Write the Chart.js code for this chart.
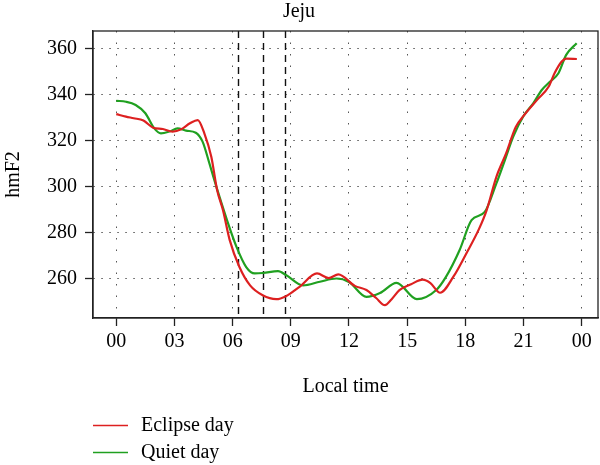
<!DOCTYPE html>
<html>
<head>
<meta charset="utf-8">
<script src="https://cdn.jsdelivr.net/npm/chart.js@4"></script>
<style>
  html, body { margin: 0; padding: 0; background: #fff; }
  #wrap { width: 600px; height: 465px; }
</style>
</head>
<body>
<div id="wrap"><canvas id="hmf2"></canvas></div>
<script>
// local time (hours) and hmF2 (km)
const eclipseHours = [0, 0.5, 0.9, 1.4, 1.9, 2.4, 2.9, 3.35, 3.8, 4.2, 4.55, 4.9, 5.2, 5.5, 5.85, 6.35, 6.9, 7.55, 8.25, 8.75,
  9.45, 10.35, 10.95, 11.45, 12.3, 12.9, 13.4, 13.85, 14.2, 14.6, 15.2, 15.8, 16.2, 16.7, 17.4, 18.05, 18.7, 19.1, 19.6,
  20.1, 20.6, 21.0, 21.7, 22.3, 22.6, 22.97, 23.2, 23.75];
const eclipseValues = [331.6, 330.5, 329.8, 328.8, 325.7, 325.1, 324, 325, 327.6, 329, 323, 313, 298.5, 289.8, 276.7, 265, 257, 252.7, 251, 252.3,
  256.4, 262.2, 260.2, 261.8, 256.8, 255, 251.5, 248.4, 251, 254.9, 257.5, 259.5, 258, 253.8, 261, 270.9, 281.5, 289.8, 304.3,
  314.5, 326, 330.8, 337.8, 343.6, 349.4, 354.5, 355.8, 355.6];

const quietHours = [0, 0.5, 1.0, 1.5, 1.96, 2.3, 2.74, 3.16, 3.6, 4.1, 4.45, 4.8, 5.16, 5.68, 6.2, 6.7, 7.14, 7.57, 8.34, 8.77,
  9.63, 10.5, 11.35, 12.0, 12.9, 13.6, 14.45, 15.5, 16.5, 17.0, 17.7, 18.32, 19.0, 19.6, 20.04, 20.47, 21.0, 21.5, 21.94,
  22.36, 22.8, 23.2, 23.74];
const quietValues = [337.4, 337, 335.6, 332, 325.4, 323.2, 324, 325.4, 324.4, 323.5, 319.6, 310.2, 300, 286.2, 273.8, 265, 262.2, 262.4, 263.2, 261.4,
  257, 258.6, 260, 258.5, 252, 253.7, 258.1, 251, 255, 260.7, 272.3, 285.4, 289, 301.4, 311.6, 321.8, 330.8, 336.3, 342.1,
  345.7, 349.4, 357.4, 362.5];

const eclipseTimes = [6.3, 7.57, 8.72];   // dashed markers
const xTicks = [0, 3, 6, 9, 12, 15, 18, 21, 24];
const xTickLabels = ['00', '03', '06', '09', '12', '15', '18', '21', '00'];
const yTicks = [260, 280, 300, 320, 340, 360];

const seriesNames = ['Eclipse day', 'Quiet day'];
const seriesColors = ['#dd2020', '#20a020'];

const serif = '"Liberation Serif", "DejaVu Serif", serif';
Chart.defaults.font.family = serif;
Chart.defaults.font.size = 20;
Chart.defaults.color = '#000';

const toPoints = (xs, ys) => xs.map((h, i) => ({ x: h, y: ys[i] }));

// box round the plot, eclipse markers and the legend underneath
const extras = {
  id: 'extras',
  beforeDatasetsDraw(chart) {
    const { ctx, chartArea: a, scales: { x } } = chart;
    ctx.save();
    ctx.setLineDash([7, 5]);
    ctx.lineWidth = 1.4;
    ctx.strokeStyle = '#111';
    eclipseTimes.forEach(t => {
      const px = Math.round(x.getPixelForValue(t)) + 0.5;
      ctx.beginPath();
      ctx.moveTo(px, a.top);
      ctx.lineTo(px, a.bottom);
      ctx.stroke();
    });
    ctx.restore();
  },
  afterDraw(chart) {
    const { ctx, chartArea: a } = chart;
    ctx.save();
    ctx.strokeStyle = '#222';
    ctx.lineWidth = 1.3;
    ctx.strokeRect(a.left, a.top, a.right - a.left, a.bottom - a.top);

    ctx.font = '20px ' + serif;
    ctx.textBaseline = 'middle';
    ctx.fillStyle = '#000';
    seriesNames.forEach((name, i) => {
      const y = 425.5 + i * 27;
      ctx.strokeStyle = seriesColors[i];
      ctx.lineWidth = 1.4;
      ctx.beginPath();
      ctx.moveTo(93, y);
      ctx.lineTo(128, y);
      ctx.stroke();
      ctx.fillText(name, 141, y);
    });
    ctx.restore();
  }
};

new Chart(document.getElementById('hmf2'), {
  type: 'line',
  data: {
    datasets: [
      { label: seriesNames[0], data: toPoints(eclipseHours, eclipseValues) },
      { label: seriesNames[1], data: toPoints(quietHours, quietValues) }
    ].map((d, i) => Object.assign(d, {
      borderColor: seriesColors[i],
      borderWidth: 2.2,
      pointRadius: 0,
      fill: false,
      cubicInterpolationMode: 'monotone'
    }))
  },
  options: {
    responsive: true,
    maintainAspectRatio: false,
    animation: false,
    layout: { padding: { top: 0, left: 0, right: 2, bottom: 60 } },
    plugins: {
      legend: { display: false },
      tooltip: { enabled: false },
      title: {
        display: true,
        text: 'Jeju',
        font: { size: 20, weight: 'normal' },
        color: '#000',
        padding: { top: 0, bottom: 7 }
      }
    },
    scales: {
      x: {
        type: 'linear',
        min: -1.2,
        max: 24.84,
        afterBuildTicks: s => { s.ticks = xTicks.map(v => ({ value: v })); },
        afterFit: s => { s.height = 87; },
        ticks: {
          autoSkip: false,
          maxRotation: 0,
          padding: 4,
          callback: v => xTickLabels[xTicks.indexOf(v)]
        },
        grid: { color: '#555', lineWidth: 1, tickColor: '#222', tickLength: 8, tickWidth: 1.3 },
        border: { display: true, color: '#222', width: 1.3, dash: [1.5, 10] },
        title: { display: true, text: 'Local time', padding: { top: 0, bottom: 6 } }
      },
      y: {
        min: 242.8,
        max: 367.8,
        afterBuildTicks: s => { s.ticks = yTicks.map(v => ({ value: v })); },
        afterFit: s => { s.width = 93; },
        ticks: { padding: 8 },
        grid: { color: '#555', lineWidth: 1, tickColor: '#222', tickLength: 8, tickWidth: 1.3 },
        border: { display: true, color: '#222', width: 1.3, dash: [1.5, 6.5] },
        title: { display: true, text: 'hmF2', padding: { top: 2, bottom: 0 } }
      }
    }
  },
  plugins: [extras]
});
</script>
</body>
</html>
